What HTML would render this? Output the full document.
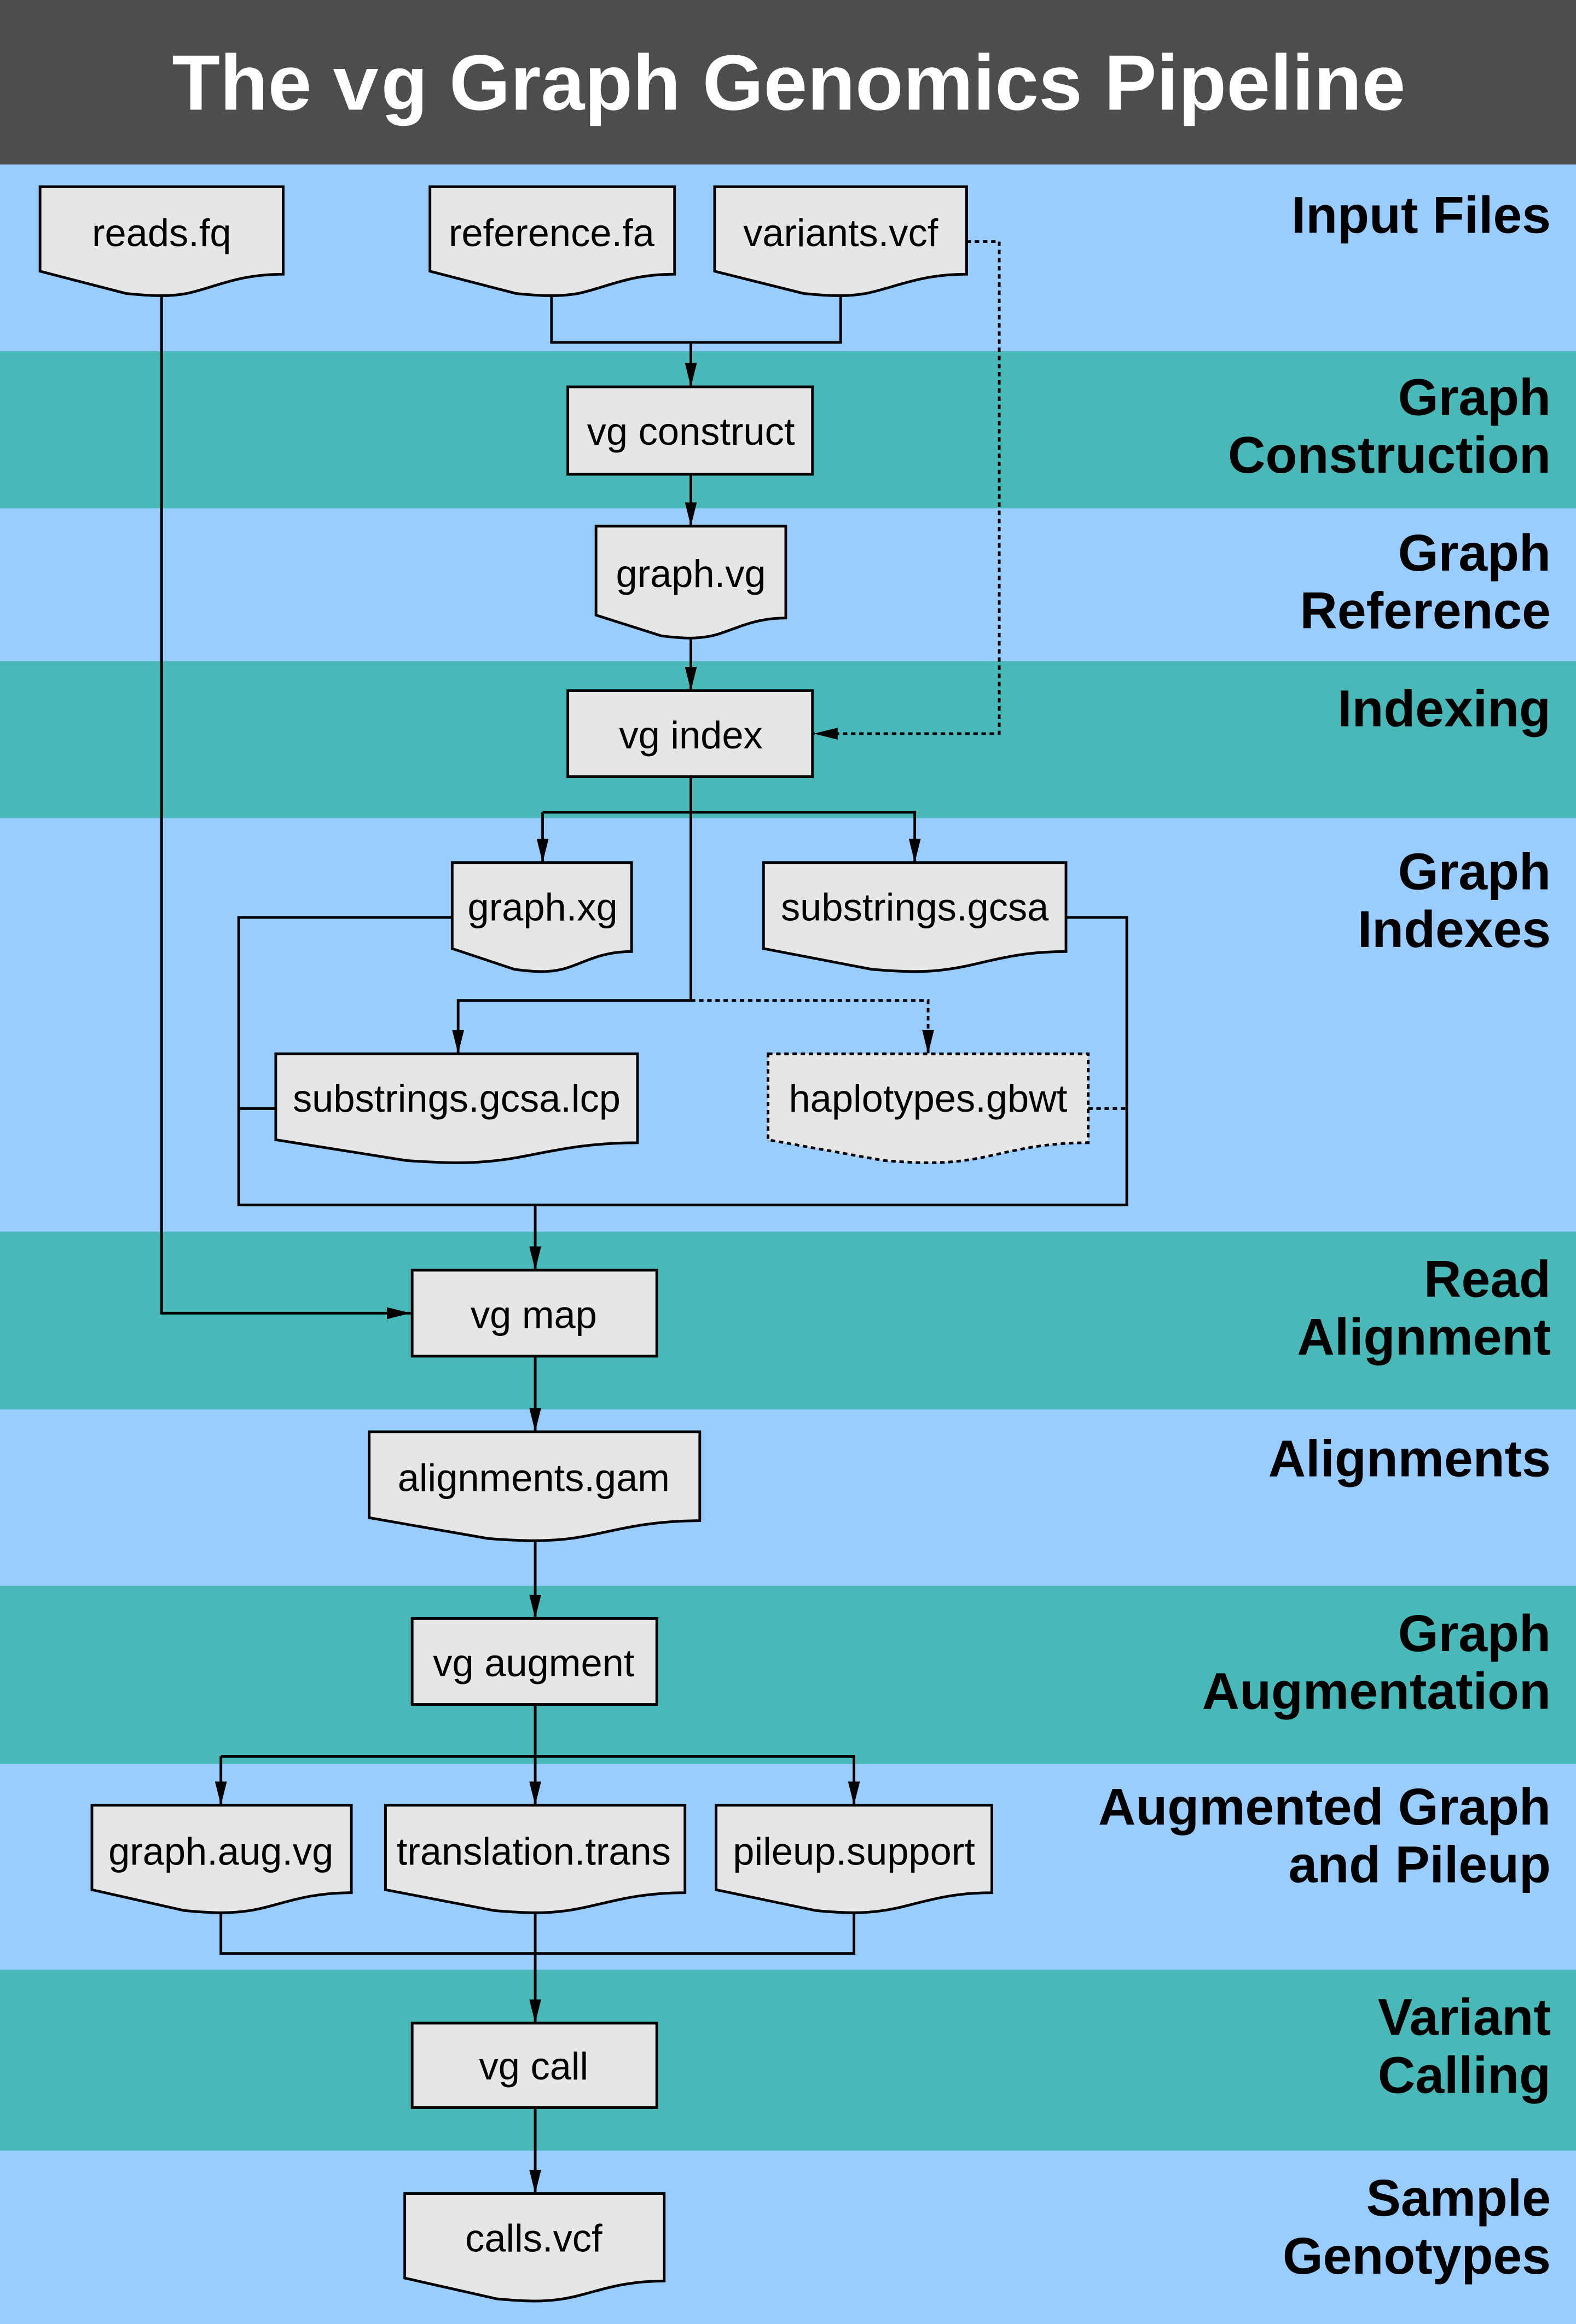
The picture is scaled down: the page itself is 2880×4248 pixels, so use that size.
<!DOCTYPE html>
<html><head><meta charset="utf-8"><style>
html,body{margin:0;padding:0;background:#99ccff}
svg{display:block}
.n{font-family:"Liberation Sans",sans-serif;font-size:26px;fill:#000;text-anchor:middle;dominant-baseline:central}
.b{font-family:"Liberation Sans",sans-serif;font-weight:bold;font-size:35px;fill:#000;text-anchor:end}
.d{fill:#e6e6e6;stroke:#000;stroke-width:1.8}
.l{fill:none;stroke:#000;stroke-width:1.8}
.dot{fill:none;stroke:#000;stroke-width:1.8;stroke-dasharray:3 2.5}
</style></head><body>
<svg width="2880" height="4248" viewBox="0 0 1063 1568" preserveAspectRatio="none" xmlns="http://www.w3.org/2000/svg">
<defs>
<marker id="a" viewBox="0 0 20 10" refX="20" refY="5" markerWidth="18" markerHeight="8" orient="auto" markerUnits="userSpaceOnUse"><path d="M0,0 L20,5 L0,10 Z" fill="#000"/></marker>
</defs>
<rect x="0" y="0" width="1063" height="111" fill="#4d4d4d"/>
<rect x="0" y="111" width="1063" height="126" fill="#99ccff"/>
<rect x="0" y="237" width="1063" height="106" fill="#48b8b8"/>
<rect x="0" y="343" width="1063" height="103" fill="#99ccff"/>
<rect x="0" y="446" width="1063" height="106" fill="#48b8b8"/>
<rect x="0" y="552" width="1063" height="279" fill="#99ccff"/>
<rect x="0" y="831" width="1063" height="120" fill="#48b8b8"/>
<rect x="0" y="951" width="1063" height="119" fill="#99ccff"/>
<rect x="0" y="1070" width="1063" height="120" fill="#48b8b8"/>
<rect x="0" y="1190" width="1063" height="139" fill="#99ccff"/>
<rect x="0" y="1329" width="1063" height="122" fill="#48b8b8"/>
<rect x="0" y="1451" width="1063" height="117" fill="#99ccff"/>
<text x="116" y="74" font-family="Liberation Sans,sans-serif" font-weight="bold" font-size="53" fill="#fff">The</text>
<text x="224" y="74" font-family="'Liberation Mono',monospace" font-weight="bold" font-size="52" fill="#fff" textLength="64" lengthAdjust="spacingAndGlyphs">vg</text>
<text x="303" y="74" font-family="Liberation Sans,sans-serif" font-weight="bold" font-size="53" fill="#fff" textLength="645" lengthAdjust="spacingAndGlyphs">Graph Genomics Pipeline</text>
<g class="b">
<text x="1046" y="157">Input Files</text>
<text x="1046" y="280">Graph</text><text x="1046" y="319">Construction</text>
<text x="1046" y="385">Graph</text><text x="1046" y="424">Reference</text>
<text x="1046" y="490">Indexing</text>
<text x="1046" y="600">Graph</text><text x="1046" y="639">Indexes</text>
<text x="1046" y="875">Read</text><text x="1046" y="914">Alignment</text>
<text x="1046" y="996">Alignments</text>
<text x="1046" y="1114">Graph</text><text x="1046" y="1153">Augmentation</text>
<text x="1046" y="1231">Augmented Graph</text><text x="1046" y="1270">and Pileup</text>
<text x="1046" y="1373">Variant</text><text x="1046" y="1412">Calling</text>
<text x="1046" y="1495">Sample</text><text x="1046" y="1534">Genotypes</text>
</g>
<path class="l" d="M109,196 V886 H277" marker-end="url(#a)"/>
<path class="l" d="M372,196 V231 H567 V196"/>
<path class="l" d="M466,231 V261" marker-end="url(#a)"/>
<path class="dot" d="M652,163 H674 V495 H549" marker-end="url(#a)"/>
<path class="l" d="M466,320 V355" marker-end="url(#a)"/>
<path class="l" d="M466,425 V466" marker-end="url(#a)"/>
<path class="l" d="M466,524 V675 H309 V711" marker-end="url(#a)"/>
<path class="l" d="M366,548 H617 V582" marker-end="url(#a)"/>
<path class="l" d="M366,548 V582" marker-end="url(#a)"/>
<path class="dot" d="M466,675 H626 V711" marker-end="url(#a)"/>
<path class="l" d="M305,619 H161 V813 H760 V619 H719"/>
<path class="l" d="M186,748 H161"/>
<path class="dot" d="M734,748 H760"/>
<path class="l" d="M361,813 V857" marker-end="url(#a)"/>
<path class="l" d="M361,915 V966" marker-end="url(#a)"/>
<path class="l" d="M361,1035 V1092" marker-end="url(#a)"/>
<path class="l" d="M361,1150 V1218" marker-end="url(#a)"/>
<path class="l" d="M149,1185 H576 V1218" marker-end="url(#a)"/>
<path class="l" d="M149,1185 V1218" marker-end="url(#a)"/>
<path class="l" d="M149,1285 V1318 H576 V1285"/>
<path class="l" d="M361,1285 V1365" marker-end="url(#a)"/>
<path class="l" d="M361,1422 V1480" marker-end="url(#a)"/>
<path class="d" d="M27,126 H191 V185 C160,185 145,194 126,198 C115,200 105,200 85,198 L27,183 Z"/>
<path class="d" d="M290,126 H455 V185 C424,185 409,194 390,198 C378,200 368,200 348,198 L290,183 Z"/>
<path class="d" d="M482,126 H652 V185 C620,185 604,194 584,198 C572,200 562,200 542,198 L482,183 Z"/>
<path class="d" d="M402,355 H530 V417 C506,417 494,426 480,429 C470,431 462,431 446,429 L402,415 Z"/>
<path class="d" d="M305,582 H426 V642 C403,642 392,651 379,654 C370,656 362,656 347,654 L305,640 Z"/>
<path class="d" d="M515,582 H719 V642 C681,642 662,651 639,654 C625,656 612,656 588,654 L515,640 Z"/>
<path class="d" d="M186,711 H430 V771 C385,771 362,780 335,783 C318,785 302,785 274,783 L186,769 Z"/>
<path class="d" style="stroke-dasharray:3 2.5" d="M518,711 H734 V771 C694,771 674,780 650,783 C635,785 621,785 596,783 L518,769 Z"/>
<path class="d" d="M249,966 H472 V1026 C430,1026 409,1035 385,1038 C369,1040 355,1040 329,1038 L249,1024 Z"/>
<path class="d" d="M62,1218 H237 V1277 C204,1277 188,1286 169,1289 C156,1291 145,1291 124,1289 L62,1275 Z"/>
<path class="d" d="M260,1218 H462 V1277 C424,1277 405,1286 383,1289 C369,1291 356,1291 333,1289 L260,1275 Z"/>
<path class="d" d="M483,1218 H669 V1277 C634,1277 617,1286 596,1289 C583,1291 571,1291 550,1289 L483,1275 Z"/>
<path class="d" d="M273,1480 H448 V1539 C415,1539 399,1548 380,1551 C367,1553 356,1553 335,1551 L273,1537 Z"/>
<rect class="d" x="383" y="261" width="165" height="59"/>
<rect class="d" x="383" y="466" width="165" height="58"/>
<rect class="d" x="278" y="857" width="165" height="58"/>
<rect class="d" x="278" y="1092" width="165" height="58"/>
<rect class="d" x="278" y="1365" width="165" height="57"/>
<g class="n">
<text x="109" y="157">reads.fq</text>
<text x="372" y="157">reference.fa</text>
<text x="567" y="157">variants.vcf</text>
<text x="466" y="291">vg construct</text>
<text x="466" y="387">graph.vg</text>
<text x="466" y="496">vg index</text>
<text x="366" y="612">graph.xg</text>
<text x="617" y="612">substrings.gcsa</text>
<text x="308" y="741">substrings.gcsa.lcp</text>
<text x="626" y="741">haplotypes.gbwt</text>
<text x="360" y="887">vg map</text>
<text x="360" y="997">alignments.gam</text>
<text x="360" y="1122">vg augment</text>
<text x="149" y="1249">graph.aug.vg</text>
<text x="360" y="1249">translation.trans</text>
<text x="576" y="1249">pileup.support</text>
<text x="360" y="1394">vg call</text>
<text x="360" y="1510">calls.vcf</text>
</g>
</svg>
</body></html>
